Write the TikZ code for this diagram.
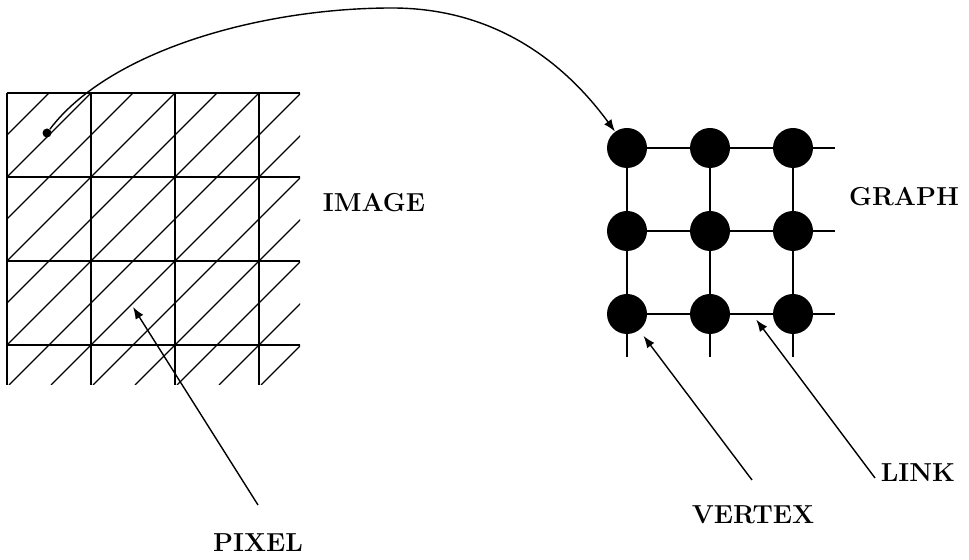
\documentclass[tikz,border=0pt]{standalone}
\usetikzlibrary{arrows.meta}

\begin{document}
\begin{tikzpicture}[x=0.5pt,y=-0.5pt,
    font=\fontsize{13}{15}\selectfont\bfseries,
    vertex/.style={circle,fill=black,inner sep=0pt,minimum size=20pt},
    arr/.style={-{Latex[length=6pt,width=4.5pt]},line width=0.7pt}]
  % \draw[help lines](0,0) grid (969,560);
  \useasboundingbox (0,0) rectangle (969,560);

  % hatched pixel grid
  \begin{scope}
    \clip (7,93) rectangle (300,385);
    \foreach \k in {1,...,13}
      \draw[line width=0.7pt] ({42*\k-285},385) -- ({42*\k+7},93);
  \end{scope}
  \foreach \x in {7,91,175,259}
    \draw[line width=1pt] (\x,93) -- (\x,385);
  \foreach \y in {93,177,261,345}
    \draw[line width=1pt] (7,\y) -- (300,\y);

  % vertices and links
  \foreach \c in {0,1,2}
    \foreach \r in {0,1,2}
      \node[vertex] (v\c\r) at ({627+83*\c},{148+83*\r}) {};
  \foreach \r in {0,1,2} {
    \draw[line width=0.6pt] (v0\r) -- (v1\r);
    \draw[line width=0.6pt] (v1\r) -- (v2\r);
    \draw[line width=0.6pt] (v2\r) -- ++(42,0);
  }
  \foreach \c in {0,1,2} {
    \draw[line width=0.6pt] (v\c0) -- (v\c1);
    \draw[line width=0.6pt] (v\c1) -- (v\c2);
    \draw[line width=0.6pt] (v\c2) -- ++(0,43);
  }

  \draw (374,203) node (image) {IMAGE};
  \draw (904,197) node (graph) {GRAPH};
  \draw (258,543) node (pixel) {PIXEL};
  \draw (753,515) node (vertexlbl) {VERTEX};
  \draw (918,473) node (link) {LINK};

  \draw (47,133) node[circle,fill,inner sep=0pt,minimum size=4.5pt] (pixdot) {};
  \draw [arr] (pixdot) .. controls (110,50) and (262,8) .. (392,8)
    .. controls (502,8) and (570,70) .. (v00);

  \coordinate (pixtail) at (258,505);
  \coordinate (pixcell) at (133,307);
  \coordinate (vtxtail) at (752,480);
  \coordinate (linktail) at (875,478);
  \coordinate (linkmid) at (752,314);
  \draw [arr] (pixtail) -- (pixcell);
  \draw [arr,shorten >=3.5pt] (vtxtail) -- (v02);
  \draw [arr,shorten >=3.5pt] (linktail) -- (linkmid);
\end{tikzpicture}
\end{document}
